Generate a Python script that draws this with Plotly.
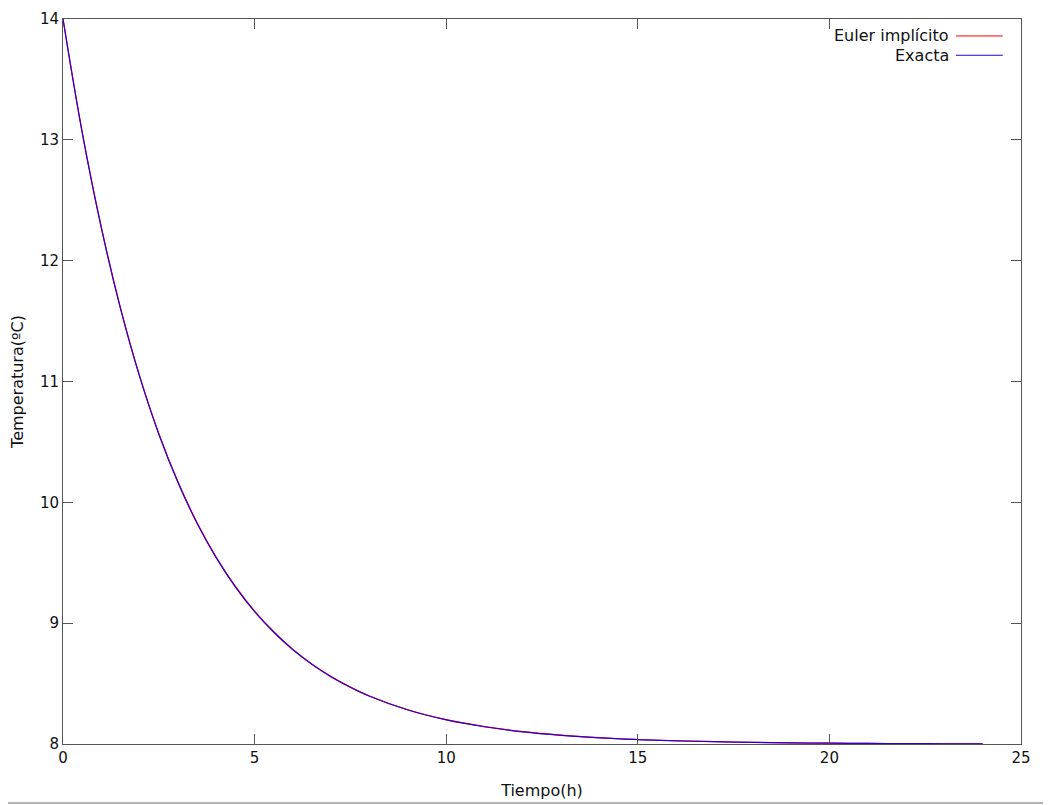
import plotly.graph_objects as go

# Time (h)
tiempo = [0, 0.5, 1, 1.5, 2, 2.5, 3, 3.5, 4, 4.5, 5, 5.5, 6, 6.5, 7, 7.5, 8,
          9, 10, 11, 12, 13, 14, 15, 16, 17, 18, 19, 20, 21, 22, 23, 24]

# Temperature (°C)
exacta = [14.000, 13.062, 12.271, 11.603, 11.040, 10.564, 10.164, 9.825, 9.540,
          9.299, 9.096, 8.925, 8.780, 8.658, 8.555, 8.469, 8.395,
          8.281, 8.200, 8.143, 8.101, 8.072, 8.051, 8.037, 8.026, 8.019,
          8.013, 8.009, 8.007, 8.005, 8.003, 8.002, 8.002]
euler_implicito = [14.000, 13.066, 12.277, 11.610, 11.047, 10.571, 10.170, 9.831, 9.545,
                   9.304, 9.100, 8.929, 8.783, 8.661, 8.558, 8.471, 8.397,
                   8.283, 8.201, 8.144, 8.102, 8.073, 8.052, 8.037, 8.027, 8.019,
                   8.014, 8.010, 8.007, 8.005, 8.003, 8.002, 8.002]

x_ticks = [0, 5, 10, 15, 20, 25]
y_ticks = [8, 9, 10, 11, 12, 13, 14]

FONT = "DejaVu Sans"
AX = "#555555"

fig = go.Figure()
fig.add_trace(go.Scatter(x=tiempo, y=euler_implicito, mode="lines", name="Euler implícito",
                         line=dict(color="#ff0000", width=1.2, shape="spline")))
fig.add_trace(go.Scatter(x=tiempo, y=exacta, mode="lines", name="Exacta",
                         line=dict(color="#2a00d0", width=1.2, shape="spline")))

axis_common = dict(showgrid=False, zeroline=False, showline=True, linecolor=AX, linewidth=1,
                   mirror="ticks", ticks="inside", ticklen=10, tickcolor=AX, tickwidth=1,
                   automargin=False,
                   tickfont=dict(family=FONT, size=15, color="#111111"))

fig.update_xaxes(range=[0, 25], tickvals=x_ticks, ticktext=[str(v) for v in x_ticks],
                 title=dict(text="Tiempo(h)", font=dict(family=FONT, size=16, color="#111111"), standoff=18),
                 **axis_common)
fig.update_yaxes(range=[8, 14], tickvals=y_ticks, ticktext=[str(v) for v in y_ticks],
                 title=dict(text="Temperatura(ºC)", font=dict(family=FONT, size=16, color="#111111"), standoff=15),
                 **axis_common)

# manual legend in gnuplot style (text right-aligned, sample line to its right)
legend_rows = [("Euler implícito", "#ff0000", 0.9766), ("Exacta", "#2a00d0", 0.950)]
shapes = []
annotations = []
for name, color, yp in legend_rows:
    annotations.append(dict(xref="paper", yref="paper", x=0.927, y=yp, text=name, showarrow=False,
                            xanchor="right", yanchor="middle",
                            font=dict(family=FONT, size=16, color="#111111")))
    shapes.append(dict(type="line", xref="paper", yref="paper", x0=0.932, x1=0.981, y0=yp, y1=yp,
                       line=dict(color=color, width=1)))

# page body has an 8px offset; figure sized to fit in the window
ML, MT, PW, PH = 55, 11, 958, 725
W, H = 1043, 797

# outer gray frame of the image (right, bottom)
frame = "#9a9a9a"
L = (1 - 8 - ML) / PW
R = (1048 - 8 - ML) / PW
B = -(795 - (MT + PH)) / PH
T = 1 + MT / PH + 0.02
shapes += [
    dict(type="line", xref="paper", yref="paper", x0=R, x1=R, y0=B, y1=T, line=dict(color=frame, width=1.5)),
    dict(type="line", xref="paper", yref="paper", x0=L, x1=R, y0=B, y1=B, line=dict(color=frame, width=1.5)),
]

fig.update_layout(width=W, height=H, margin=dict(l=ML, r=W - ML - PW, t=MT, b=H - MT - PH),
                  plot_bgcolor="white", paper_bgcolor="white", showlegend=False,
                  shapes=shapes, annotations=annotations,
                  font=dict(family=FONT, color="#111111"))

fig.write_html("out.html")
